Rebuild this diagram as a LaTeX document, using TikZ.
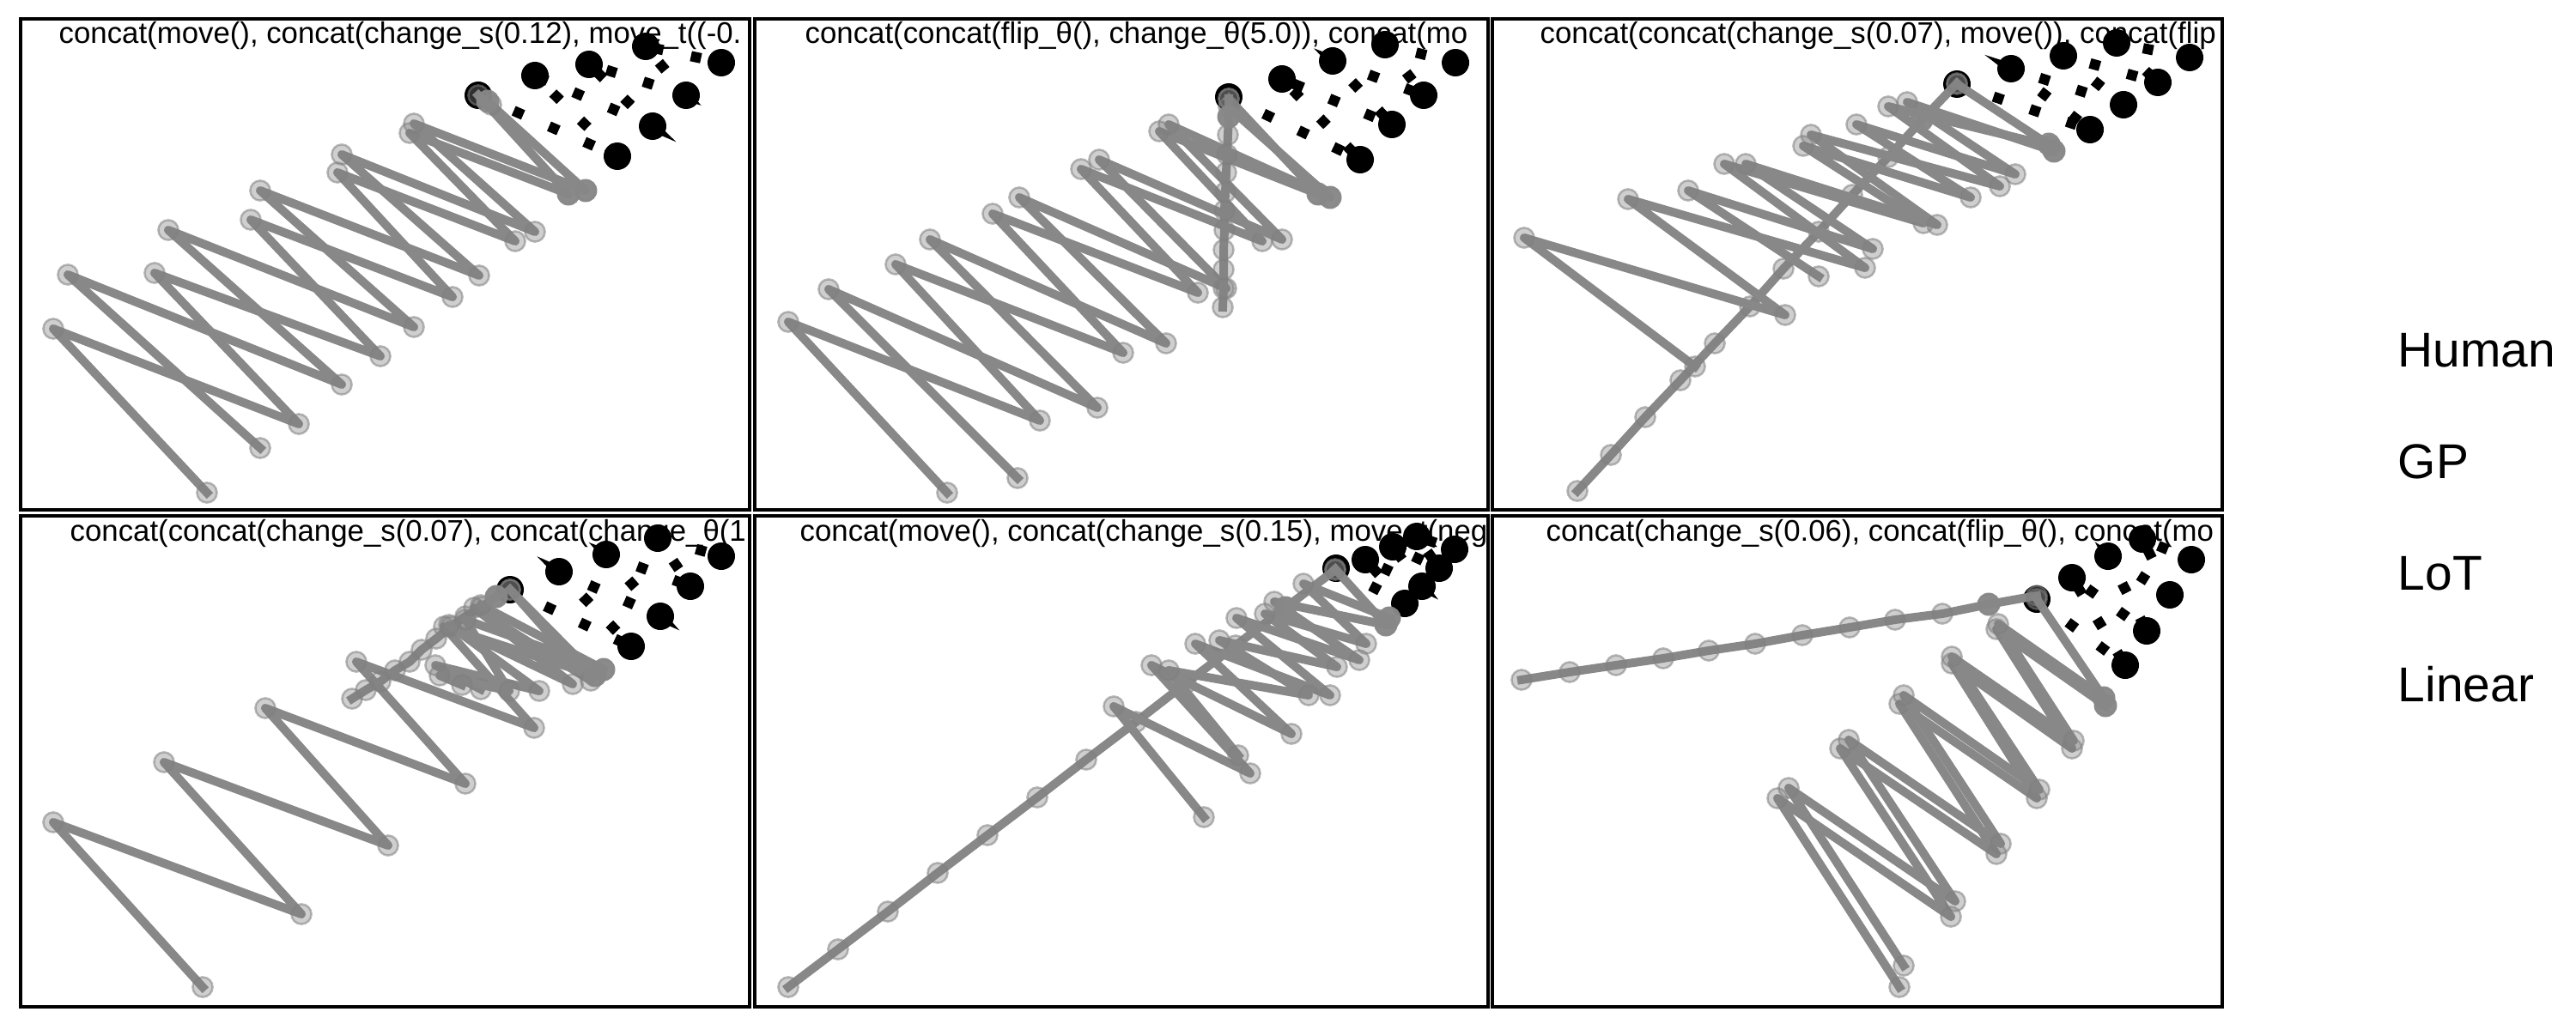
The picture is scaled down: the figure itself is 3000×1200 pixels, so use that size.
\documentclass[tikz,border=0pt]{standalone}
\usepackage{fontspec}
\setmainfont{Liberation Sans}
\usepackage{tikz}
\usetikzlibrary{positioning}
\definecolor{trailgray}{HTML}{888888}
\definecolor{markgray}{HTML}{808080}

\begin{document}
\begin{tikzpicture}[
  x=0.1mm, y=-0.1mm,
  frame/.style={draw=black, line width=0.45mm},
  headline/.style={anchor=base west, inner sep=0pt, font=\fontsize{9.9}{11}\selectfont},
  legendtext/.style={anchor=base west, inner sep=0pt, font=\fontsize{16.2}{19}\selectfont},
  goalline/.style={black, line width=1.2mm, dash pattern=on 1.2mm off 3.3mm},
  trail/.style={draw=trailgray, line width=1mm, line cap=rect, line join=round,
    mark=*, mark size=3.3pt,
    mark options={solid, line width=0.25mm, draw=markgray, fill=markgray,
      fill opacity=0.38, draw opacity=0.55}},
  blob/.style={fill=trailgray, opacity=0.95}
]
\useasboundingbox (0,0) rectangle (3000,1200);

% top left
\begin{scope}
  \clip (24,22) rectangle (873,594);
  \node[headline] (h1) at (68,51) {concat(move(), concat(change\_s(0.12), move\_t((-0.};
  \draw[goalline] (557,111) -- (719,182) -- (623,88) -- (760,147) -- (686,75) -- (799,111) -- (752,54) -- (840,73);
  \foreach \x/\y in {557/111, 719/182, 623/88, 760/147, 686/75, 799/111, 752/54, 840/73}
    \fill (\x,\y) circle (1.6mm);
  \draw[trail] plot coordinates {(241,574) (62,383) (348,494) (180,318) (443,415) (292,256) (527,346) (393,201) (600,281) (477,155) (662,226) (557,111)};
  \draw[trail] plot coordinates {(303,522) (79,320) (398,448) (196,268) (482,381) (303,222) (558,321) (398,180) (623,270) (482,144) (682,222) (572,122)};
  \foreach \x/\y in {662/226, 682/222, 568/118}
    \fill[blob] (\x,\y) circle (1.35mm);
\end{scope}
\draw[frame] (24,22) rectangle (873,594);

% top middle
\begin{scope}
  \clip (879,22) rectangle (1733,594);
  \node[headline] (h2) at (937,51) {concat(concat(flip\_θ(), change\_θ(5.0)), concat(mo};
  \draw[goalline] (1431,113) -- (1584,186) -- (1493,92) -- (1621,145) -- (1552,71) -- (1658,111) -- (1613,52) -- (1695,73);
  \foreach \x/\y in {1431/113, 1584/186, 1493/92, 1621/145, 1552/71, 1658/111, 1613/52, 1695/73}
    \fill (\x,\y) circle (1.6mm);
  \draw[trail] plot coordinates {(1103,574) (918,375) (1211,490) (1043,308) (1308,411) (1156,249) (1395,341) (1259,197) (1470,281) (1350,153) (1535,226) (1431,115)};
  \draw[trail] plot coordinates {(1185,557) (965,337) (1278,475) (1083,279) (1358,400) (1187,230) (1428,336) (1280,186) (1493,279) (1361,145) (1549,230) (1431,125)};
  \draw[trail] plot coordinates {(1424,358) (1425,336) (1425,314) (1425,291) (1426,268) (1426,245) (1427,224) (1428,201) (1429,180) (1430,157) (1431,136) (1431,115)};
  \foreach \x/\y in {1535/226, 1549/230, 1431/136}
    \fill[blob] (\x,\y) circle (1.35mm);
\end{scope}
\draw[frame] (879,22) rectangle (1733,594);

% top right
\begin{scope}
  \clip (1738,22) rectangle (2588,594);
  \node[headline] (h3) at (1793,51) {concat(concat(change\_s(0.07), move()), concat(flip};
  \draw[goalline] (2279,98) -- (2434,151) -- (2342,80) -- (2473,122) -- (2403,65) -- (2513,96) -- (2465,50) -- (2550,67);
  \foreach \x/\y in {2279/98, 2434/151, 2342/80, 2473/122, 2403/65, 2513/96, 2465/50, 2550/67}
    \fill (\x,\y) circle (1.6mm);
  \draw[trail] plot coordinates {(1837,572) (1876,530) (1916,486) (1957,443) (1997,400) (2038,357) (2077,313) (2118,270) (2157,227) (2199,183) (2238,140) (2279,97)};
  \draw[trail] plot coordinates {(1974,427) (1775,277) (2079,367) (1896,232) (2172,312) (2008,191) (2240,260) (2100,170) (2295,230) (2162,145) (2347,203) (2221,119) (2392,176)};
  \draw[trail] plot coordinates {(2118,322) (1966,222) (2181,290) (2033,191) (2256,262) (2109,157) (2329,217) (2199,124) (2388,170) (2279,98)};
  \foreach \x/\y in {2392/176, 2386/168, 2238/140}
    \fill[blob] (\x,\y) circle (1.35mm);
\end{scope}
\draw[frame] (1738,22) rectangle (2588,594);

% bottom left
\begin{scope}
  \clip (24,601) rectangle (873,1173);
  \node[headline] (h4) at (81,630) {concat(concat(change\_s(0.07), concat(change\_θ(1};
  \draw[goalline] (594,687) -- (735,753) -- (651,666) -- (769,718) -- (706,646) -- (804,683) -- (766,627) -- (840,648);
  \foreach \x/\y in {594/687, 735/753, 651/666, 769/718, 706/646, 804/683, 766/627, 840/648}
    \fill (\x,\y) circle (1.6mm);
  \draw[trail] plot coordinates {(236,1150) (62,958) (351,1065) (191,888) (452,985) (309,825) (542,913) (415,771) (622,848) (517,730) (693,787) (594,687)};
  \draw[trail] plot coordinates {(410,814) (426,804) (443,794) (460,781) (477,771) (491,757) (508,744) (525,730) (542,718) (561,707) (578,695)};
  \draw[trail] plot coordinates {(560,803) (507,775) (628,805) (523,728) (667,797) (552,708) (688,793) (594,687)};
  \draw[trail] plot coordinates {(538,798) (512,787) (593,805) (542,722) (703,780) (560,705)};
  \foreach \x/\y in {703/780, 693/787, 578/695}
    \fill[blob] (\x,\y) circle (1.35mm);
\end{scope}
\draw[frame] (24,601) rectangle (873,1173);

% bottom middle
\begin{scope}
  \clip (879,601) rectangle (1733,1173);
  \node[headline] (h5) at (931,630) {concat(move(), concat(change\_s(0.15), move\_t(neg};
  \draw[goalline] (1556,662) -- (1636,703) -- (1590,652) -- (1656,683) -- (1622,637) -- (1676,662) -- (1650,625) -- (1694,640);
  \foreach \x/\y in {1556/662, 1636/703, 1590/652, 1656/683, 1622/637, 1676/662, 1650/625, 1694/640}
    \fill (\x,\y) circle (1.6mm);
  \draw[trail] plot coordinates {(918,1150) (976,1106) (1034,1062) (1092,1017) (1150,973) (1208,929) (1265,885) (1323,841) (1381,796) (1439,752) (1497,708) (1555,664)};
  \draw[trail] plot coordinates {(1402,952) (1297,823) (1456,901) (1341,775) (1504,855) (1392,750) (1549,810) (1440,720) (1583,769) (1484,701) (1614,728) (1555,663)};
  \draw[trail] plot coordinates {(1442,880) (1361,781) (1524,810) (1420,746) (1557,777) (1473,715) (1591,750) (1518,680) (1618,720)};
  \foreach \x/\y in {1614/728, 1618/720, 1497/708}
    \fill[blob] (\x,\y) circle (1.35mm);
\end{scope}
\draw[frame] (879,601) rectangle (1733,1173);

% bottom right
\begin{scope}
  \clip (1738,601) rectangle (2588,1173);
  \node[headline] (h6) at (1800,630) {concat(change\_s(0.06), concat(flip\_θ(), concat(mo};
  \draw[goalline] (2372,698) -- (2475,775) -- (2413,673) -- (2500,735) -- (2455,648) -- (2527,693) -- (2495,628) -- (2552,652);
  \foreach \x/\y in {2372/698, 2475/775, 2413/673, 2500/735, 2455/648, 2527/693, 2495/628, 2552/652}
    \fill (\x,\y) circle (1.6mm);
  \draw[trail] plot coordinates {(1772,792) (1828,783) (1882,775) (1937,767) (1990,758) (2044,750) (2099,740) (2154,731) (2207,722) (2262,715) (2316,704) (2372,694)};
  \draw[trail] plot coordinates {(2212,1150) (2070,930) (2272,1068) (2143,872) (2325,995) (2212,820) (2372,930) (2273,773) (2413,872) (2325,733) (2452,822)};
  \draw[trail] plot coordinates {(2217,1125) (2083,918) (2277,1050) (2153,862) (2330,983) (2217,810) (2375,920) (2273,765) (2415,863) (2327,727) (2450,813) (2372,698)};
  \foreach \x/\y in {2450/813, 2452/822, 2316/704}
    \fill[blob] (\x,\y) circle (1.35mm);
\end{scope}
\draw[frame] (1738,601) rectangle (2588,1173);

% legend
\node[legendtext] (human) at (2792,427) {Human};
\node[legendtext] (gp) at (2792,557) {GP};
\node[legendtext] (lot) at (2792,687) {LoT};
\node[legendtext] (linear) at (2792,817) {Linear};
\end{tikzpicture}
\end{document}
